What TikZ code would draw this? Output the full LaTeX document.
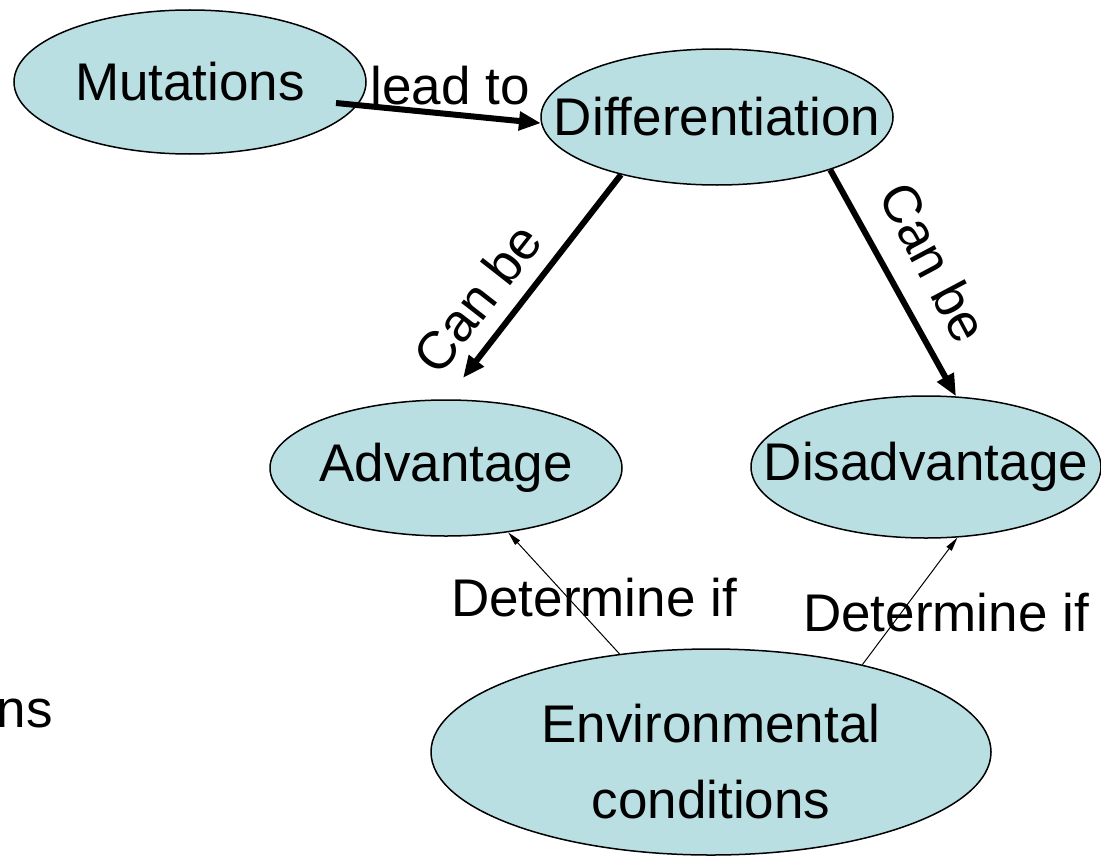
\documentclass[tikz,border=0pt]{standalone}
\usepackage{fontspec}
\setmainfont{Liberation Sans}
\usetikzlibrary{arrows.meta,shapes.geometric}
\newlength{\du}
\setlength{\du}{0.5pt}
\definecolor{bubblefill}{rgb}{0.725,0.875,0.890}
\newcommand{\zw}[1]{\makebox[0pt]{#1}}
\tikzset{
  bubble/.style={ellipse, draw=black, line width=0.75pt, fill=bubblefill,
    inner sep=0pt, align=center, font=\fontsize{26.5}{38}\selectfont},
  linklabel/.style={inner sep=0pt, font=\fontsize{26.5}{38}\selectfont},
  boldlink/.style={line width=3pt, -{Triangle[length=11pt,width=9pt]}},
  thinlink/.style={line width=0.5pt, -{Triangle[length=7pt,width=3.2pt]}}
}

\begin{document}
\begin{tikzpicture}
\pgftransformyscale{-1.000000}
\clip (0\du,0\du) rectangle (1101\du,856\du);
% concepts
\node[bubble, minimum width=352\du, minimum height=144\du] (mut) at (190\du,82\du){\zw{Mutations}};
\node[bubble, minimum width=352\du, minimum height=136\du] (diff) at (717\du,117\du){\zw{Differentiation}};
\node[bubble, minimum width=352\du, minimum height=136\du] (adv) at (446\du,468\du){\zw{Advantage}};
\node[bubble, minimum width=350\du, minimum height=142\du] (dis) at (926\du,467\du){\zw{Disadvantage}};
\node[bubble, minimum width=560\du, minimum height=206\du, text height=132\du, text depth=0pt] (env) at (711\du,752\du){\zw{Environmental}\\\zw{conditions}};
\node[linklabel, anchor=east] (ns) at (53\du,713\du){ns};
% free ends
\coordinate (mutout) at (336\du,103\du);
\coordinate (advin) at (463\du,378\du);
% links
\draw[boldlink] (mutout)--(diff.182);
\draw[boldlink] (diff.211)--(advin);
\draw[boldlink] (diff.-25)--(dis.67);
\draw[thinlink] (env.133)--(adv.-46);
\draw[thinlink] (env.30)--(dis.-66);
% link labels
\node[linklabel] (leadto) at (450\du,86\du){lead to};
\node[linklabel, rotate=52] (canbeA) at (477\du,298\du){Can be};
\node[linklabel, rotate=-62] (canbeB) at (934\du,262\du){Can be};
\node[linklabel] (detA) at (594\du,598\du){Determine if};
\node[linklabel] (detB) at (946\du,613\du){Determine if};
\end{tikzpicture}
\end{document}
